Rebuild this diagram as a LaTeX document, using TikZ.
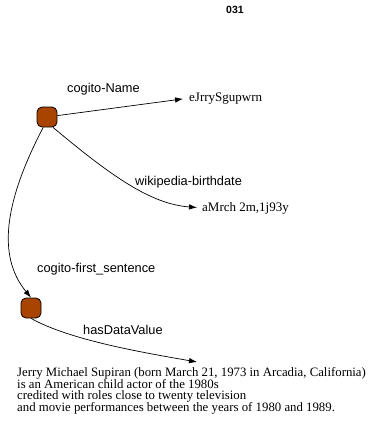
\documentclass[tikz,border=0pt]{standalone}
\usepackage{fontspec}
\setmainfont{Liberation Serif}
\setsansfont{Liberation Sans}
\usetikzlibrary{arrows.meta}
\definecolor{resfill}{HTML}{A84300}
% keep the paragraph lines at an even baseline distance
\setlength{\lineskiplimit}{-20pt}

\begin{document}
\begin{tikzpicture}[x=1pt,y=-1pt,
  res/.style={draw=black, fill=resfill, rounded corners=5pt, minimum size=20pt, inner sep=0pt, line width=0.8pt},
  prop/.style={font=\sffamily\fontsize{12.8}{14}\selectfont, inner sep=0pt, anchor=base west},
  lit/.style={font=\fontsize{13}{14}\selectfont, inner sep=0pt, anchor=base west},
  para/.style={font=\fontsize{12.8}{11.6}\selectfont, inner sep=0pt, anchor=north west, align=left},
  link/.style={-{Latex[length=8pt,width=5.5pt]}, line width=0.7pt}]
  \useasboundingbox (0,0) rectangle (371,424);

  % title
  \node[font=\sffamily\bfseries\fontsize{10.5}{12}\selectfont, inner sep=0pt] (title) at (235,10) {031};

  % resources
  \node[res] (n1) at (47,117) {};
  \node[res] (n2) at (31,308) {};

  % literal values
  \node[lit] (t1) at (189,101) {eJrrySgupwrn};
  \node[lit] (t2) at (202,211) {aMrch 2m,1j93y};
  \node[para] (t3) at (17,367.3)
    {Jerry Michael Supiran (born March 21, 1973 in Arcadia, California)\\
     is an American child actor of the 1980s\\
     credited with roles close to twenty television\\
     and movie performances between the years of 1980 and 1989.};
  \coordinate (t3in) at (197,362);

  % property labels
  \node[prop] (l1) at (67,92) {cogito-Name};
  \node[prop] (l2) at (135,185) {wikipedia-birthdate};
  \node[prop] (l3) at (37,272) {cogito-first\_sentence};
  \node[prop] (l4) at (83,334) {hasDataValue};

  % connectors
  \draw[link, shorten >=6pt] (n1) -- (t1.west);
  \draw[link, shorten >=5pt] (n1.300) .. controls (110,175) and (150,204) .. (t2.west);
  \draw[link] (n1.250) .. controls (0,210) and (0,260) .. (n2.north);
  \draw[link] (n2.south) .. controls (70,340) and (140,352) .. (t3in);
\end{tikzpicture}
\end{document}
